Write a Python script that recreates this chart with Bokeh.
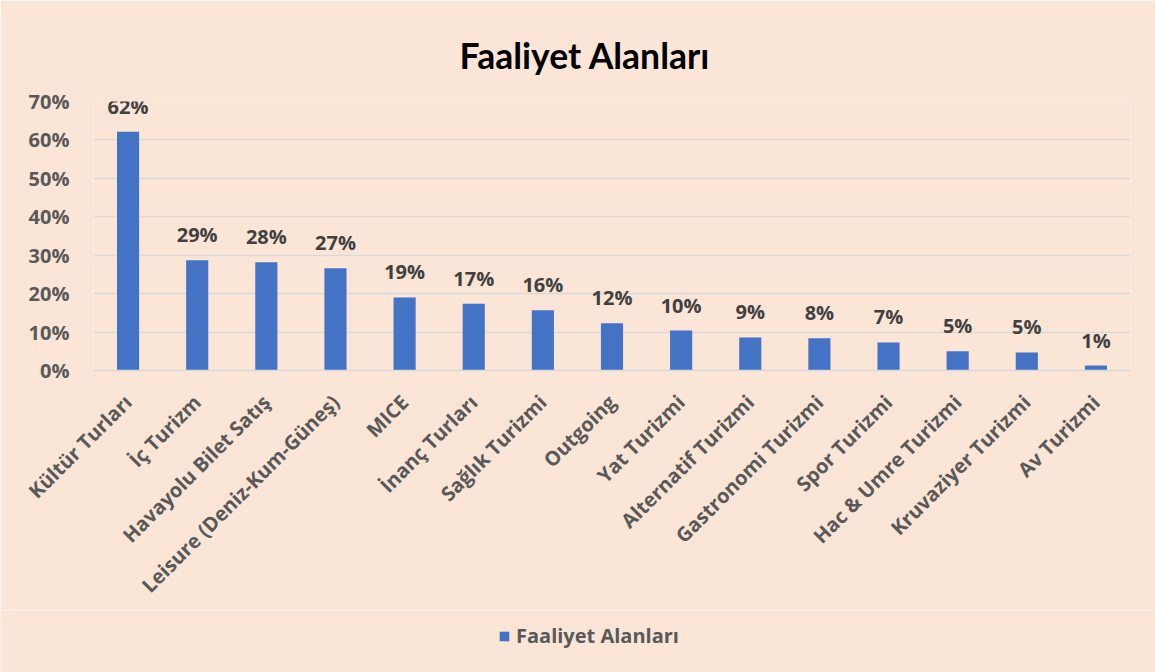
from bokeh.plotting import figure
from bokeh.models import (ColumnDataSource, FactorRange, Range1d, FixedTicker,
                          NumeralTickFormatter, LabelSet, Legend, LegendItem)
from bokeh.layouts import column
from bokeh.core.properties import value
from bokeh.embed import file_html
from bokeh.resources import INLINE
import math

categories = ["Kültür Turları", "İç Turizm", "Havayolu Bilet Satış",
              "Leisure (Deniz-Kum-Güneş)", "MICE", "İnanç Turları",
              "Sağlık Turizmi", "Outgoing", "Yat Turizmi", "Alternatif Turizmi",
              "Gastronomi Turizmi", "Spor Turizmi", "Hac & Umre Turizmi",
              "Kruvaziyer Turizmi", "Av Turizmi"]
values = [62.1, 28.7, 28.2, 26.6, 19.0, 17.4, 15.7, 12.3, 10.4, 8.6, 8.4, 7.3, 5.0, 4.7, 1.3]
y_ticks = [0, 10, 20, 30, 40, 50, 60, 70]
series_name = "Faaliyet Alanları"
title_text = "Faaliyet Alanları"

BG = "#FBE5D6"
BAR = "#4472C4"
FONT = "Open Sans"

frac = [v / 100 for v in values]
labels = ["%d%%" % int(v + 0.5) for v in values]
src = ColumnDataSource(dict(cat=categories, y=frac, lab=labels))

p = figure(width=1155, height=610, output_backend="svg", toolbar_location=None,
           x_range=FactorRange(*categories), y_range=Range1d(0, 0.7),
           min_border_left=93, min_border_right=25, min_border_top=101,
           min_border_bottom=240)
p.frame_align = False
p.background_fill_color = BG
p.border_fill_color = BG
p.outline_line_color = None

p.title.text = title_text
p.title.align = "left"
p.title.vertical_align = "top"
p.title.text_font = "Lato"
p.title.text_font_size = "35.5px"
p.title.text_font_style = "bold"
p.title.text_color = "#000000"
p.title.standoff = 46
p.title.offset = 366

r = p.vbar(x="cat", top="y", width=0.32, source=src, fill_color=BAR, line_color=None)

p.yaxis.ticker = FixedTicker(ticks=[t / 100 for t in y_ticks])
p.yaxis.formatter = NumeralTickFormatter(format="0%")
p.yaxis.axis_line_color = None
p.yaxis.major_tick_line_color = None
p.yaxis.minor_tick_line_color = None
p.yaxis.major_label_text_font = FONT
p.yaxis.major_label_text_font_size = "20px"
p.yaxis.major_label_text_font_style = "bold"
p.yaxis.major_label_text_color = "#595959"
p.yaxis.major_label_standoff = 18

p.xaxis.axis_line_color = "#D9D9D9"
p.xaxis.axis_line_width = 1.5
p.xaxis.major_tick_line_color = None
p.xaxis.minor_tick_line_color = None
p.xaxis.major_label_orientation = math.pi / 4
p.xaxis.major_label_text_font = FONT
p.xaxis.major_label_text_font_size = "20px"
p.xaxis.major_label_text_font_style = "bold"
p.xaxis.major_label_text_color = "#595959"
p.xaxis.major_label_standoff = 22

p.xgrid.grid_line_color = None
p.ygrid.grid_line_color = "#D9D9D9"
p.ygrid.grid_line_width = 1.5

lbl = LabelSet(x="cat", y="y", text="lab", source=src, y_offset=12,
               text_align="center", text_baseline="bottom",
               text_font=value(FONT), text_font_size=value("20px"),
               text_font_style="bold", text_color="#404040")
p.add_layout(lbl)

# legend strip below the chart (same series, value range kept out of view)
q = figure(width=1155, height=62, output_backend="svg", toolbar_location=None,
           x_range=p.x_range, y_range=Range1d(10, 11),
           min_border_left=0, min_border_right=0, min_border_top=0,
           min_border_bottom=0)
q.frame_align = False
q.axis.visible = False
q.grid.visible = False
q.background_fill_color = BG
q.border_fill_color = BG
q.outline_line_color = None
rq = q.vbar(x="cat", top="y", width=0.32, source=src, fill_color=BAR, line_color=None)
legend = Legend(items=[LegendItem(label=series_name, renderers=[rq])],
                location=(498, 23), orientation="horizontal",
                background_fill_alpha=0, border_line_color=None,
                label_text_font=FONT, label_text_font_size="20px",
                label_text_font_style="bold", label_text_color="#595959",
                glyph_width=12, glyph_height=12, label_standoff=6,
                padding=0, margin=0)
q.add_layout(legend, "center")

layout = column(p, q, spacing=0)
open("out.html", "w").write(file_html(layout, INLINE))
